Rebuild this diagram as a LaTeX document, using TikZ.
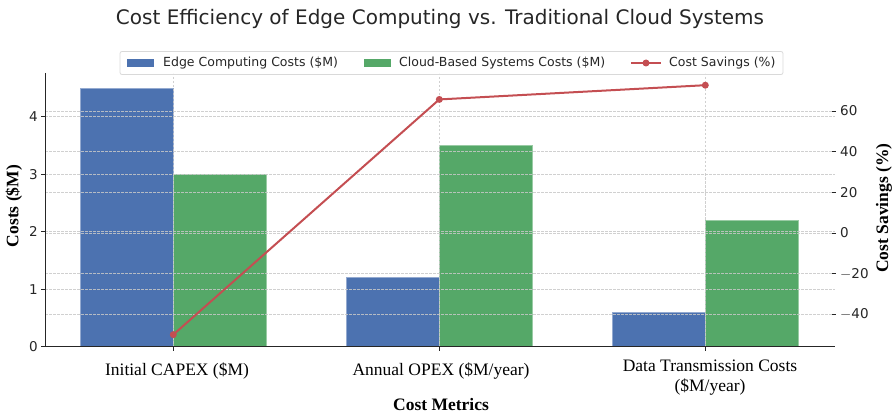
\documentclass[tikz,border=0pt]{standalone}
\usepackage{fontspec}
\setmainfont{Liberation Serif}
\newfontfamily\dejavu{DejaVu Sans}
\definecolor{edgeblue}{HTML}{4C72B0}
\definecolor{cloudgreen}{HTML}{55A868}
\definecolor{savered}{HTML}{C44E52}
\definecolor{gridgray}{HTML}{C8C8C8}
\tikzset{
  barE/.style={fill=edgeblue,draw=edgeblue!60!white,line width=0.6pt},
  barC/.style={fill=cloudgreen,draw=cloudgreen!60!white,line width=0.6pt},
  gridln/.style={draw=gridgray,dashed,dash pattern=on 2.5pt off 1.5pt,line width=0.7pt,opacity=0.85},
  axisln/.style={draw=black!85,line width=1pt},
  tickln/.style={draw=black!85,line width=0.8pt},
  ticklab/.style={font=\dejavu\fontsize{13.5}{15}\selectfont,text=black!85,inner sep=0pt},
  catlab/.style={font=\fontsize{17.5}{20}\selectfont,align=center,inner sep=0pt},
  axlab/.style={font=\bfseries\fontsize{17.5}{20}\selectfont,inner sep=0pt},
  leglab/.style={font=\dejavu\fontsize{12.5}{14}\selectfont,text=black!85,anchor=west,inner sep=0pt},
  saveln/.style={draw=savered,line width=2pt},
  savedot/.style={circle,fill=savered,inner sep=0pt,minimum size=7pt},
}
\begin{document}
\begin{tikzpicture}[x=1pt,y=-1pt]
\useasboundingbox (0,0) rectangle (893,414);
% title
\node[font=\dejavu\fontsize{20}{24}\selectfont,text=black!85] (title) at (440,19) {Cost Efficiency of Edge Computing vs. Traditional Cloud Systems};
% bars
\foreach \i/\e/\c in {0/4.5/3.0, 1/1.2/3.5, 2/0.6/2.2}{
  \pgfmathsetmacro{\cx}{173.3+266*\i}
  \path[barE] ({\cx-93},346.7) rectangle ({\cx},{346.7-57.5*\e});
  \path[barC] ({\cx},346.7) rectangle ({\cx+93},{346.7-57.5*\c});
}
% grid (on top, as in reference)
\foreach \v in {1,2,3,4}{
  \path[gridln] (45,{346.7-57.5*\v}) -- (835,{346.7-57.5*\v});
}
\foreach \s in {-40,-20,0,20,40,60}{
  \path[gridln] (45,{233-2.033*\s}) -- (835,{233-2.033*\s});
}
\foreach \i in {0,1,2}{
  \path[gridln] ({173.3+266*\i},73) -- ({173.3+266*\i},346.7);
}
% axes
\draw[axisln] (45,73) -- (45,346.7) -- (835,346.7);
% left ticks
\foreach \v in {0,1,2,3,4}{
  \draw[tickln] (41,{346.7-57.5*\v}) -- (45,{346.7-57.5*\v});
  \node[ticklab,anchor=east] (ly\v) at (38,{346.7-57.5*\v}) {\v};
}
% right ticks
\foreach \s/\t in {-40/$-$40,-20/$-$20,0/0,20/20,40/40,60/60}{
  \draw[tickln] (832,{233-2.033*\s}) -- (836,{233-2.033*\s});
  \node[ticklab,anchor=west] at (840,{233-2.033*\s}) {\dejavu\t};
}
% bottom ticks
\foreach \i in {0,1,2}{
  \draw[tickln] ({173.3+266*\i},346.7) -- ({173.3+266*\i},351);
}
% savings line
\coordinate (p0) at (173.3,{233+2.033*50});
\coordinate (p1) at (439.3,{233-2.033*65.7});
\coordinate (p2) at (705.3,{233-2.033*72.7});
\draw[saveln] (p0) -- (p1) -- (p2);
\node[savedot] (d0) at (p0) {};
\node[savedot] (d1) at (p1) {};
\node[savedot] (d2) at (p2) {};
% category labels
\node[catlab] (c0) at (177,371) {Initial CAPEX (\$M)};
\node[catlab] (c1) at (441,371) {Annual OPEX (\$M/year)};
\node[catlab,anchor=north] (c2) at (710,360) {Data Transmission Costs\\(\$M/year)};
% axis labels
\node[axlab] (xl) at (441,405) {Cost Metrics};
\node[axlab,rotate=90] (yl) at (14,206) {Costs (\$M)};
\node[axlab,rotate=90] (yr) at (884,208) {Cost Savings (\%)};
% legend
\draw[draw=black!15,fill=white,fill opacity=0.85,rounded corners=2pt,line width=0.8pt] (120,51.5) rectangle (783,74.5);
\path[fill=edgeblue] (127,59) rectangle (154,67);
\node[leglab] (l1) at (163,63) {Edge Computing Costs (\$M)};
\path[fill=cloudgreen] (364,59) rectangle (391,67);
\node[leglab] (l2) at (399,63) {Cloud-Based Systems Costs (\$M)};
\draw[saveln] (631,63) -- (661,63);
\node[savedot] (ld) at (646,63) {};
\node[leglab] (l3) at (669,63) {Cost Savings (\%)};
\end{tikzpicture}
\end{document}
